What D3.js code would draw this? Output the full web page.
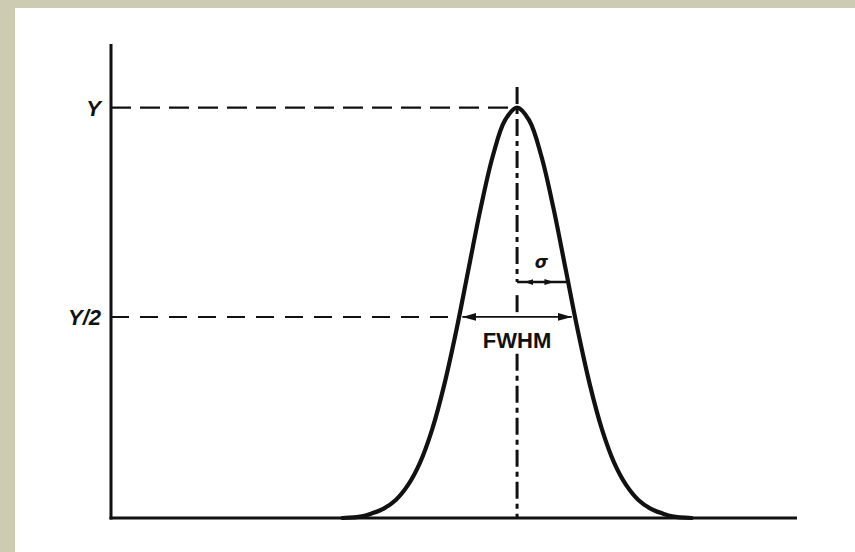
<!DOCTYPE html>
<html>
<head>
<meta charset="utf-8">
<script src="https://cdn.jsdelivr.net/npm/d3@7"></script>
<style>
  html, body { margin: 0; padding: 0; background: #cdcbb1; }
  svg { display: block; }
</style>
</head>
<body>
<svg id="chart" width="855" height="552"></svg>
<script>
// ---- data (x in units of sigma, y as fraction of peak height Y) ----
const curveX = [-3.6, -3.2, -3.0, -2.75, -2.5, -2.25, -2.0, -1.75, -1.5, -1.25, -1.0, -0.75, -0.5, -0.25, 0,
                 0.25, 0.5, 0.75, 1.0, 1.25, 1.5, 1.75, 2.0, 2.25, 2.5, 2.75, 3.0, 3.2, 3.6];
const curveY = [0.0, 0.004, 0.011, 0.023, 0.044, 0.080, 0.135, 0.216, 0.325, 0.458, 0.607, 0.755, 0.882, 0.969, 1.0,
                0.969, 0.882, 0.755, 0.607, 0.458, 0.325, 0.216, 0.135, 0.080, 0.044, 0.023, 0.011, 0.004, 0.0];
const yTickValues = [1, 0.49];
const yTickLabels = ["Y", "Y/2"];
const peakX = 0;
const fwhmHalf = [-1.19, 1.19];
const sigmaLevel = 0.575;
const sigmaEnd = 1.03;
const fwhmLabel = "FWHM";
const sigmaLabel = "σ";

// ---- layout ----
const svg = d3.select("#chart");
svg.append("rect").attr("x", 15).attr("y", 8).attr("width", 840).attr("height", 544).attr("fill", "#ffffff");

const x = d3.scaleLinear().domain([-8.37, 5.77]).range([111, 797]);
const y = d3.scaleLinear().domain([0, 1.155]).range([518, 44]);

const ink = "#111";

// arrow markers
const defs = svg.append("defs");
function marker(id, orient, w, h) {
  defs.append("marker").attr("id", id)
    .attr("viewBox", `0 0 ${w} ${h}`).attr("refX", w).attr("refY", h / 2)
    .attr("markerWidth", w).attr("markerHeight", h)
    .attr("markerUnits", "userSpaceOnUse").attr("orient", orient)
    .append("path").attr("d", `M0,0 L${w},${h/2} L0,${h} Z`).attr("fill", ink);
}
marker("arrowBig", "auto-start-reverse", 14, 8);
marker("arrowSmall", "auto-start-reverse", 9, 6);

const g = svg.append("g");
// horizontal dashed reference lines from the axis
g.append("line")
  .attr("x1", x.range()[0]).attr("x2", x(peakX))
  .attr("y1", y(yTickValues[0])).attr("y2", y(yTickValues[0]))
  .attr("stroke", ink).attr("stroke-width", 2.4).attr("stroke-dasharray", "20,9");
g.append("line")
  .attr("x1", x.range()[0]).attr("x2", x(fwhmHalf[0]))
  .attr("y1", y(yTickValues[1])).attr("y2", y(yTickValues[1]))
  .attr("stroke", ink).attr("stroke-width", 2).attr("stroke-dasharray", "18,11");

// vertical dash-dot centre line, broken around the labels
const vSegs = [[1.05, sigmaLevel], [0.543, yTickValues[1]], [0.40, 0]];
vSegs.forEach(s => {
  g.append("line")
    .attr("x1", x(peakX)).attr("x2", x(peakX))
    .attr("y1", y(s[0])).attr("y2", y(s[1]))
    .attr("stroke", ink).attr("stroke-width", 3).attr("stroke-dasharray", "17,5,5,5");
});

// FWHM arrow
g.append("line")
  .attr("x1", x(fwhmHalf[0]) + 3).attr("x2", x(fwhmHalf[1]) - 3)
  .attr("y1", y(yTickValues[1])).attr("y2", y(yTickValues[1]))
  .attr("stroke", ink).attr("stroke-width", 1.6)
  .attr("marker-start", "url(#arrowBig)").attr("marker-end", "url(#arrowBig)");

// sigma arrow
g.append("line")
  .attr("x1", x(peakX)).attr("x2", x(sigmaEnd))
  .attr("y1", y(sigmaLevel)).attr("y2", y(sigmaLevel))
  .attr("stroke", ink).attr("stroke-width", 2.4);
g.append("line")
  .attr("x1", x(0.15)).attr("x2", x(0.75))
  .attr("y1", y(sigmaLevel)).attr("y2", y(sigmaLevel))
  .attr("stroke", ink).attr("stroke-width", 1.4)
  .attr("marker-start", "url(#arrowSmall)").attr("marker-end", "url(#arrowSmall)");

// axes
g.append("line").attr("x1", x.range()[0]).attr("x2", x.range()[0])
  .attr("y1", y.range()[1]).attr("y2", y(0) + 1.5)
  .attr("stroke", ink).attr("stroke-width", 3);
g.append("line").attr("x1", x.range()[0] - 1.5).attr("x2", x.range()[1])
  .attr("y1", y(0)).attr("y2", y(0))
  .attr("stroke", ink).attr("stroke-width", 3);

// gaussian curve
const pts = curveX.map((v, i) => [v, curveY[i]]);
g.append("path").datum(pts)
  .attr("d", d3.line().x(d => x(d[0])).y(d => y(d[1])).curve(d3.curveCatmullRom.alpha(0.5)))
  .attr("fill", "none").attr("stroke", ink).attr("stroke-width", 4.2)
  .attr("stroke-linejoin", "round").attr("stroke-linecap", "round");

// tick labels
yTickValues.forEach((v, i) => {
  g.append("text")
    .attr("x", 101).attr("y", y(v)).attr("dy", "0.36em")
    .attr("text-anchor", "end")
    .attr("font-family", "Liberation Sans, Arial, sans-serif")
    .attr("font-weight", "bold").attr("font-style", "italic")
    .attr("font-size", 22).attr("fill", ink)
    .text(yTickLabels[i]);
});

// FWHM label
g.append("text")
  .attr("x", x(peakX)).attr("y", 348)
  .attr("text-anchor", "middle")
  .attr("font-family", "Liberation Sans, Arial, sans-serif")
  .attr("font-weight", "bold").attr("font-size", 22)
  .attr("fill", ink).text(fwhmLabel);

// sigma label
g.append("text")
  .attr("x", x(0.5)).attr("y", y(sigmaLevel) - 14)
  .attr("text-anchor", "middle")
  .attr("font-family", "DejaVu Sans, sans-serif")
  .attr("font-weight", "bold").attr("font-style", "italic")
  .attr("font-size", 17).attr("fill", ink).text(sigmaLabel);
</script>
</body>
</html>
